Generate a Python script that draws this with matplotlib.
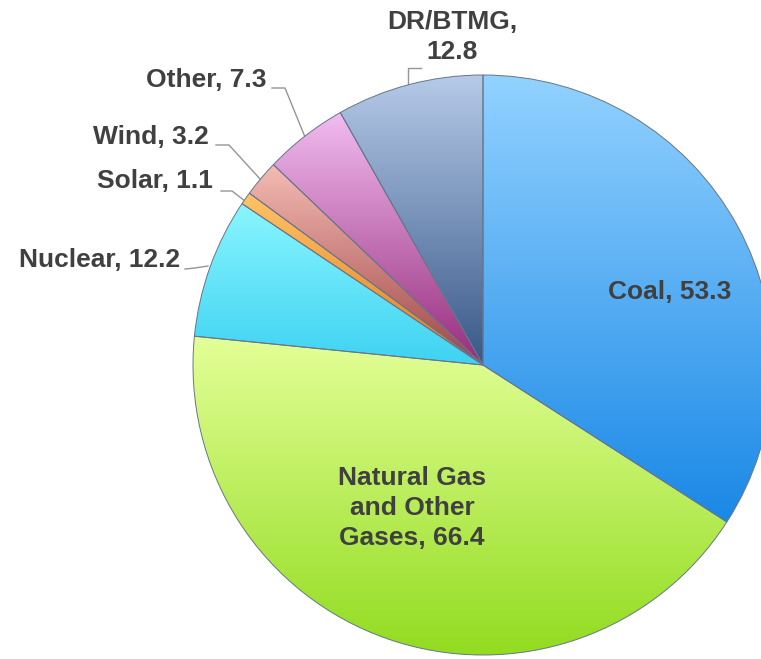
import numpy as np
import matplotlib
matplotlib.use("Agg")
import matplotlib.pyplot as plt
from matplotlib.colors import to_rgb

# capacity by fuel type
labels = ["Coal", "Natural Gas\nand Other\nGases", "Nuclear", "Solar", "Wind", "Other", "DR/BTMG"]
values = [53.3, 66.4, 12.2, 1.1, 3.2, 7.3, 12.8]
# (top colour, bottom colour) of each slice gradient
tops = ["#92d2ff", "#e4ff98", "#8af6ff", "#ffc466", "#f4bcb4", "#f2bcf0", "#b6cae8"]
bottoms = ["#1a88e6", "#92dc20", "#3ed2f2", "#e07a1e", "#a04444", "#962c7c", "#385888"]

W, H = 761, 659
fig = plt.figure(figsize=(W / 100, H / 100), dpi=100)
ax = fig.add_axes([0, 0, 1, 1])

cx, cy, R = 483, H - 365, 290
wedges, _ = ax.pie(values, center=(cx, cy), radius=R, startangle=90,
                   counterclock=False,
                   wedgeprops=dict(edgecolor="#66758a", linewidth=0.7))

# fill each slice with a vertical gradient clipped to its shape
for w, c0, c1 in zip(wedges, tops, bottoms):
    w.set_facecolor("none")
    ext = w.get_path().get_extents()
    t = np.linspace(0, 1, 256)[:, None]
    img = (1 - t) * np.array(to_rgb(c0)) + t * np.array(to_rgb(c1))
    im = ax.imshow(img[:, None, :], extent=(ext.x0, ext.x1, ext.y0, ext.y1),
                   origin="upper", aspect="auto", zorder=w.get_zorder() - 0.1,
                   interpolation="bilinear")
    im.set_clip_path(w)

ax.set_xlim(0, W)
ax.set_ylim(0, H)
ax.set_aspect("equal")
ax.axis("off")

font = dict(family=["Liberation Sans", "DejaVu Sans"], fontweight="bold",
            fontsize=19, color="#404040", linespacing=1.3)

def yy(y):
    return H - y

# labels inside the two big slices
ax.text(670, yy(292), f"{labels[0]}, {values[0]}", ha="center", va="center", **font)
ax.text(412, yy(508), f"{labels[1]}, {values[1]}", ha="center", va="center",
        multialignment="center", **font)

# outside labels with leader lines: (text x, text y, align, leader points)
outside = [
    (2, 180, 260, "right", [(185, 269), (195, 268), (208, 266)]),
    (3, 213, 181, "right", [(221, 191), (232, 191), (245, 201)]),
    (4, 209, 137, "right", [(216, 145), (229, 145), (261, 180)]),
    (5, 267, 80, "right", [(272, 88), (285, 88), (305, 137)]),
    (6, 452, 37, "center", [(421, 68), (408, 68), (408, 85)]),
]
for i, tx, ty, ha, pts in outside:
    txt = f"{labels[i]}, {values[i]}" if i != 6 else f"{labels[i]},\n{values[i]}"
    ax.text(tx, yy(ty), txt, ha=ha, va="center", multialignment="center", **font)
    xs = [p[0] for p in pts]
    ys = [yy(p[1]) for p in pts]
    ax.plot(xs, ys, color="#959595", lw=1.0, zorder=0.5)

fig.savefig("out.png", dpi=100)
